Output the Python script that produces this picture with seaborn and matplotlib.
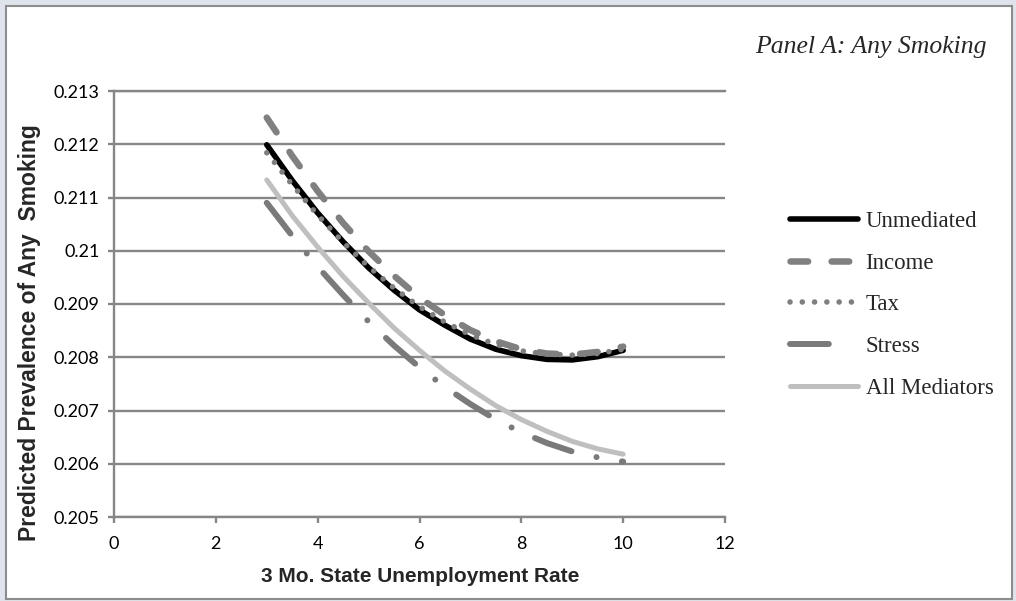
import numpy as np
import pandas as pd
import seaborn as sns
import matplotlib.pyplot as plt
from matplotlib.patches import Rectangle
from matplotlib.font_manager import FontProperties

# unemployment rate grid (x) and predicted prevalence
unemp = [3, 3.5, 4, 4.5, 5, 5.5, 6, 6.5, 7, 7.5, 8, 8.5, 9, 9.5, 10]
unmediated = [0.21199, 0.21132, 0.21071, 0.21017, 0.20968, 0.20926, 0.20889, 0.20860,
              0.20834, 0.20815, 0.20803, 0.20796, 0.20795, 0.20801, 0.20813]
income = [0.21250, 0.21178, 0.21112, 0.21052, 0.20999, 0.20953, 0.20912, 0.20879,
          0.20851, 0.20830, 0.20815, 0.20807, 0.20805, 0.20810, 0.20820]
tax = [0.21184, 0.21124, 0.21067, 0.21016, 0.20970, 0.20930, 0.20895, 0.20866,
       0.20842, 0.20824, 0.20812, 0.20806, 0.20804, 0.20807, 0.20815]
stress = [0.21090, 0.21028, 0.20970, 0.20917, 0.20867, 0.20822, 0.20781, 0.20744,
          0.20712, 0.20683, 0.20659, 0.20639, 0.20623, 0.20612, 0.20604]
all_med = [0.21133, 0.21066, 0.21007, 0.20952, 0.20902, 0.20855, 0.20813, 0.20774,
           0.20740, 0.20709, 0.20683, 0.20661, 0.20642, 0.20628, 0.20618]

series_names = ['Unmediated', 'Income', 'Tax', 'Stress', 'All Mediators']
yticks = [0.205, 0.206, 0.207, 0.208, 0.209, 0.21, 0.211, 0.212, 0.213]
ytick_labels = ['0.205', '0.206', '0.207', '0.208', '0.209', '0.21', '0.211', '0.212', '0.213']
xticks = [0, 2, 4, 6, 8, 10, 12]

df = pd.DataFrame({'x': unemp * 5,
                   'y': unmediated + income + tax + stress + all_med,
                   'series': np.repeat(series_names, len(unemp))})

sns.set_style('white')
plt.rcParams['font.family'] = ['Lato', 'DejaVu Sans']

W, H = 1016, 601
fig = plt.figure(figsize=(W / 100, H / 100), dpi=100, facecolor='#dfe4ec')
fig.patches.append(Rectangle((6 / W, 1 - 599 / H), (1012 - 6) / W, (599 - 6) / H,
                             transform=fig.transFigure, facecolor='white',
                             edgecolor='#8c8c8c', lw=1.5, zorder=-5))

ax = fig.add_axes([114 / W, 1 - 517 / H, (725 - 114) / W, (517 - 91) / H])
ax.set_facecolor('white')

styles = {
    'Unmediated': dict(color='black', lw=4.0, ls='-'),
    'Income': dict(color='#808080', lw=4.7, ls=(0, (2.7, 3.6))),
    'Tax': dict(color='#7f7f7f', lw=4.0, ls=(0, (0.01, 2.2))),
    'Stress': dict(color='#7a7a7a', lw=4.3, ls=(0, (6.5, 4.3, 0.01, 4.3))),
    'All Mediators': dict(color='#bfbfbf', lw=3.6, ls='-'),
}

for name in series_names:
    st = styles[name]
    sub = df[df['series'] == name]
    sns.lineplot(data=sub, x='x', y='y', ax=ax, color=st['color'], lw=st['lw'],
                 linestyle=st['ls'], label=name, solid_capstyle='round',
                 dash_capstyle='round')

ax.set_xlim(0, 12)
ax.set_ylim(0.205, 0.213)
ax.set_xticks(xticks)
ax.set_yticks(yticks)
ax.set_yticklabels(ytick_labels)
ax.set_xlabel('')
ax.set_ylabel('')

grey = '#868686'
ax.yaxis.grid(True, color=grey, lw=1.7)
ax.xaxis.grid(False)
for side in ['left', 'bottom', 'top']:
    ax.spines[side].set_color(grey)
    ax.spines[side].set_linewidth(1.7)
ax.spines['right'].set_visible(False)
ax.tick_params(axis='both', which='major', direction='out', length=4.5, width=1.7,
               color=grey, labelsize=13, labelcolor='black')
ax.tick_params(axis='y', pad=6, left=True)
ax.tick_params(axis='x', pad=9, bottom=True)

fig.text(30 / W, 1 - 333 / H, 'Predicted Prevalence of Any  Smoking', rotation=90,
         ha='center', va='center', fontsize=16.5, fontweight='bold',
         family=['Liberation Sans', 'DejaVu Sans'])
fig.text(420 / W, 1 - 577 / H, '3 Mo. State Unemployment Rate', ha='center',
         va='center', fontsize=15, fontweight='bold',
         family=['Liberation Sans', 'DejaVu Sans'])
fig.text(987 / W, 1 - 47 / H, 'Panel A: Any Smoking', ha='right', va='center',
         fontsize=18.5, style='italic', family=['Liberation Serif', 'DejaVu Serif'])

handles, labels = ax.get_legend_handles_labels()
leg = ax.legend(handles, labels, loc='upper left', bbox_to_anchor=(790 / W, 1 - 211 / H),
                bbox_transform=fig.transFigure, frameon=False,
                prop=FontProperties(family='Liberation Serif', size=16.5),
                handlelength=2.95, handletextpad=0.35, labelspacing=0.9,
                borderaxespad=0, borderpad=0)
# the legend key for Stress shows only its long dash
leg.get_lines()[3].set_linestyle((0, (6.5, 20)))

fig.savefig('out.png', dpi=100, facecolor=fig.get_facecolor())
